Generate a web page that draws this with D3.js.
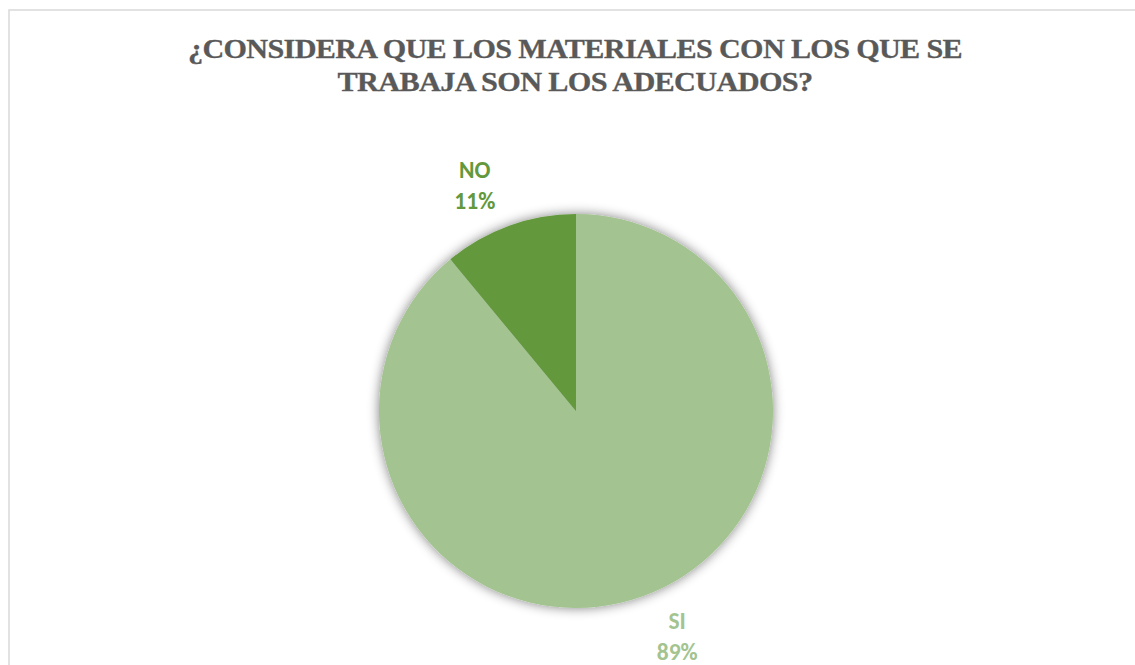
<!DOCTYPE html>
<html>
<head>
<meta charset="utf-8">
<script src="https://cdn.jsdelivr.net/npm/d3@7"></script>
<style>
  html, body { margin: 0; padding: 0; background: #ffffff; }
  svg { display: block; }
</style>
</head>
<body>
<svg id="chart" width="1135" height="665"></svg>
<script>
// Survey answers and their shares (%)
const categories = ["SI", "NO"];
const values = [89, 11];
const sliceColors = ["#a3c490", "#63983d"];
const titleLines = [
  "¿CONSIDERA QUE LOS MATERIALES CON LOS QUE SE",
  "TRABAJA SON LOS ADECUADOS?"
];

const W = 1135, H = 665;
const svg = d3.select("#chart");

// chart frame (runs off the right and bottom edges)
svg.append("rect")
  .attr("x", 9).attr("y", 10)
  .attr("width", W + 20).attr("height", H + 20)
  .attr("fill", "#ffffff")
  .attr("stroke", "#d9d9d9")
  .attr("stroke-width", 1.5);

// title: condensed bold serif
const title = svg.append("g")
  .attr("font-family", "'Liberation Serif', 'Times New Roman', serif")
  .attr("font-weight", "bold")
  .attr("font-size", 28)
  .attr("fill", "#595959")
  .attr("stroke", "#595959")
  .attr("stroke-width", 0.3)
  .style("letter-spacing", "-0.6px")
  .attr("text-anchor", "middle");
const titleWidths = [774, 475];
const titleBaselines = [57.5, 91];
title.selectAll("text").data(titleLines).join("text")
  .attr("x", 575)
  .attr("y", (d, i) => titleBaselines[i])
  .attr("textLength", (d, i) => titleWidths[i])
  .attr("lengthAdjust", "spacingAndGlyphs")
  .text(d => d);

// soft shadow around the pie
const defs = svg.append("defs");
const f = defs.append("filter").attr("id", "pieShadow")
  .attr("x", "-20%").attr("y", "-20%").attr("width", "140%").attr("height", "140%");
f.append("feGaussianBlur").attr("in", "SourceAlpha").attr("stdDeviation", 6).attr("result", "blur");
f.append("feComponentTransfer").attr("in", "blur").attr("result", "shadow")
  .append("feFuncA").attr("type", "linear").attr("slope", 0.5);
const merge = f.append("feMerge");
merge.append("feMergeNode").attr("in", "shadow");
merge.append("feMergeNode").attr("in", "SourceGraphic");

const cx = 576, cy = 411, r = 197;
const data = categories.map((c, i) => ({ cat: c, value: values[i], color: sliceColors[i] }));
const pie = d3.pie().sort(null).value(d => d.value);
const arcs = pie(data);
const arc = d3.arc().innerRadius(0).outerRadius(r);

const g = svg.append("g").attr("transform", `translate(${cx},${cy})`);
g.append("g").attr("filter", "url(#pieShadow)")
  .selectAll("path").data(arcs).join("path")
  .attr("d", arc)
  .attr("fill", d => d.data.color);

// outside-end data labels: category on the first line, percentage below
const total = d3.sum(values);
const fmt = d3.format(".0%");
const capH = 16.5, lineGap = 31, gapX = 14, gapY = 16.5;
arcs.forEach(d => {
  const mid = (d.startAngle + d.endAngle) / 2;
  const ex = r * Math.sin(mid), ey = -r * Math.cos(mid);
  const sx = Math.sign(ex) || 1, sy = Math.sign(ey) || 1;
  const lab = g.append("g")
    .attr("font-family", "Carlito, Lato, 'Open Sans', sans-serif")
    .attr("font-weight", "bold")
    .attr("font-size", 23.5)
    .attr("fill", d.data.color)
    .attr("text-anchor", "middle");
  const t1 = lab.append("text").text(d.data.cat);
  const t2 = lab.append("text").text(fmt(d.data.value / total));
  const w = Math.max(t1.node().getComputedTextLength(), t2.node().getComputedTextLength());
  const h = capH + lineGap;
  const cornerX = ex + sx * gapX, cornerY = ey + sy * gapY;
  const bx = cornerX + sx * w / 2;
  const top = sy > 0 ? cornerY : cornerY - h;
  t1.attr("x", bx).attr("y", top + capH);
  t2.attr("x", bx).attr("y", top + capH + lineGap);
});
</script>
</body>
</html>
